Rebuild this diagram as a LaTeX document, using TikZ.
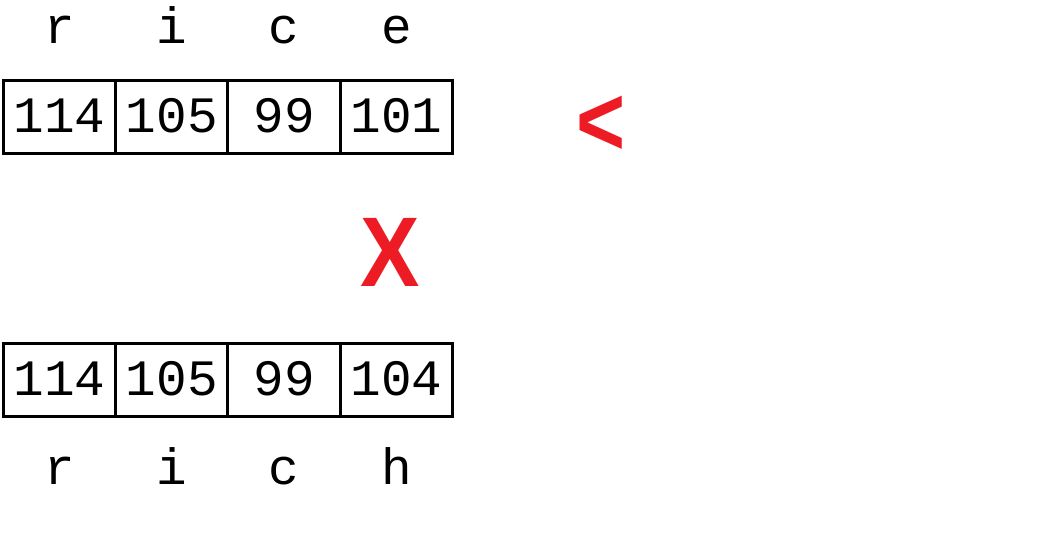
\documentclass[tikz,border=0pt]{standalone}
\usepackage{fontspec}
\setmonofont[Numbers=SlashedZero]{Liberation Mono}
\newfontfamily\redfont{Liberation Sans}
\definecolor{mark}{HTML}{ED1C24}
\begin{document}
\begin{tikzpicture}[x=1pt,y=-1pt,
  cell/.style={draw=black, line width=3pt, rectangle, minimum width=112.3pt, minimum height=73pt,
    inner sep=0pt, text height=30pt, text depth=0pt, font=\ttfamily\fontsize{51}{51}\selectfont},
  letter/.style={anchor=base, inner sep=0pt, font=\ttfamily\fontsize{51}{51}\selectfont},
  redmark/.style={anchor=base, inner sep=0pt, text=mark, font=\redfont\bfseries\fontsize{99}{99}\selectfont}]
\useasboundingbox (0,0) rectangle (1053,558);
% top row
\node[cell] (t1) at (59.45,117) {114};
\node[cell] (t2) at (171.75,117) {105};
\node[cell] (t3) at (284.05,117) {99};
\node[cell] (t4) at (396.35,117) {101};
\node[letter] (lt1) at (59.45,43) {r};
\node[letter] (lt2) at (171.75,43) {i};
\node[letter] (lt3) at (284.05,43) {c};
\node[letter] (lt4) at (396.35,43) {e};
% bottom row
\node[cell] (b1) at (59.45,380) {114};
\node[cell] (b2) at (171.75,380) {105};
\node[cell] (b3) at (284.05,380) {99};
\node[cell] (b4) at (396.35,380) {104};
\node[letter] (lb1) at (59.45,484) {r};
\node[letter] (lb2) at (171.75,484) {i};
\node[letter] (lb3) at (284.05,484) {c};
\node[letter] (lb4) at (396.35,484) {h};
% marks
\node[redmark, xscale=0.9] (x) at (390.5,286) {X};
\node[redmark, xscale=0.85] (lt) at (601,155) {<};
\end{tikzpicture}
\end{document}
